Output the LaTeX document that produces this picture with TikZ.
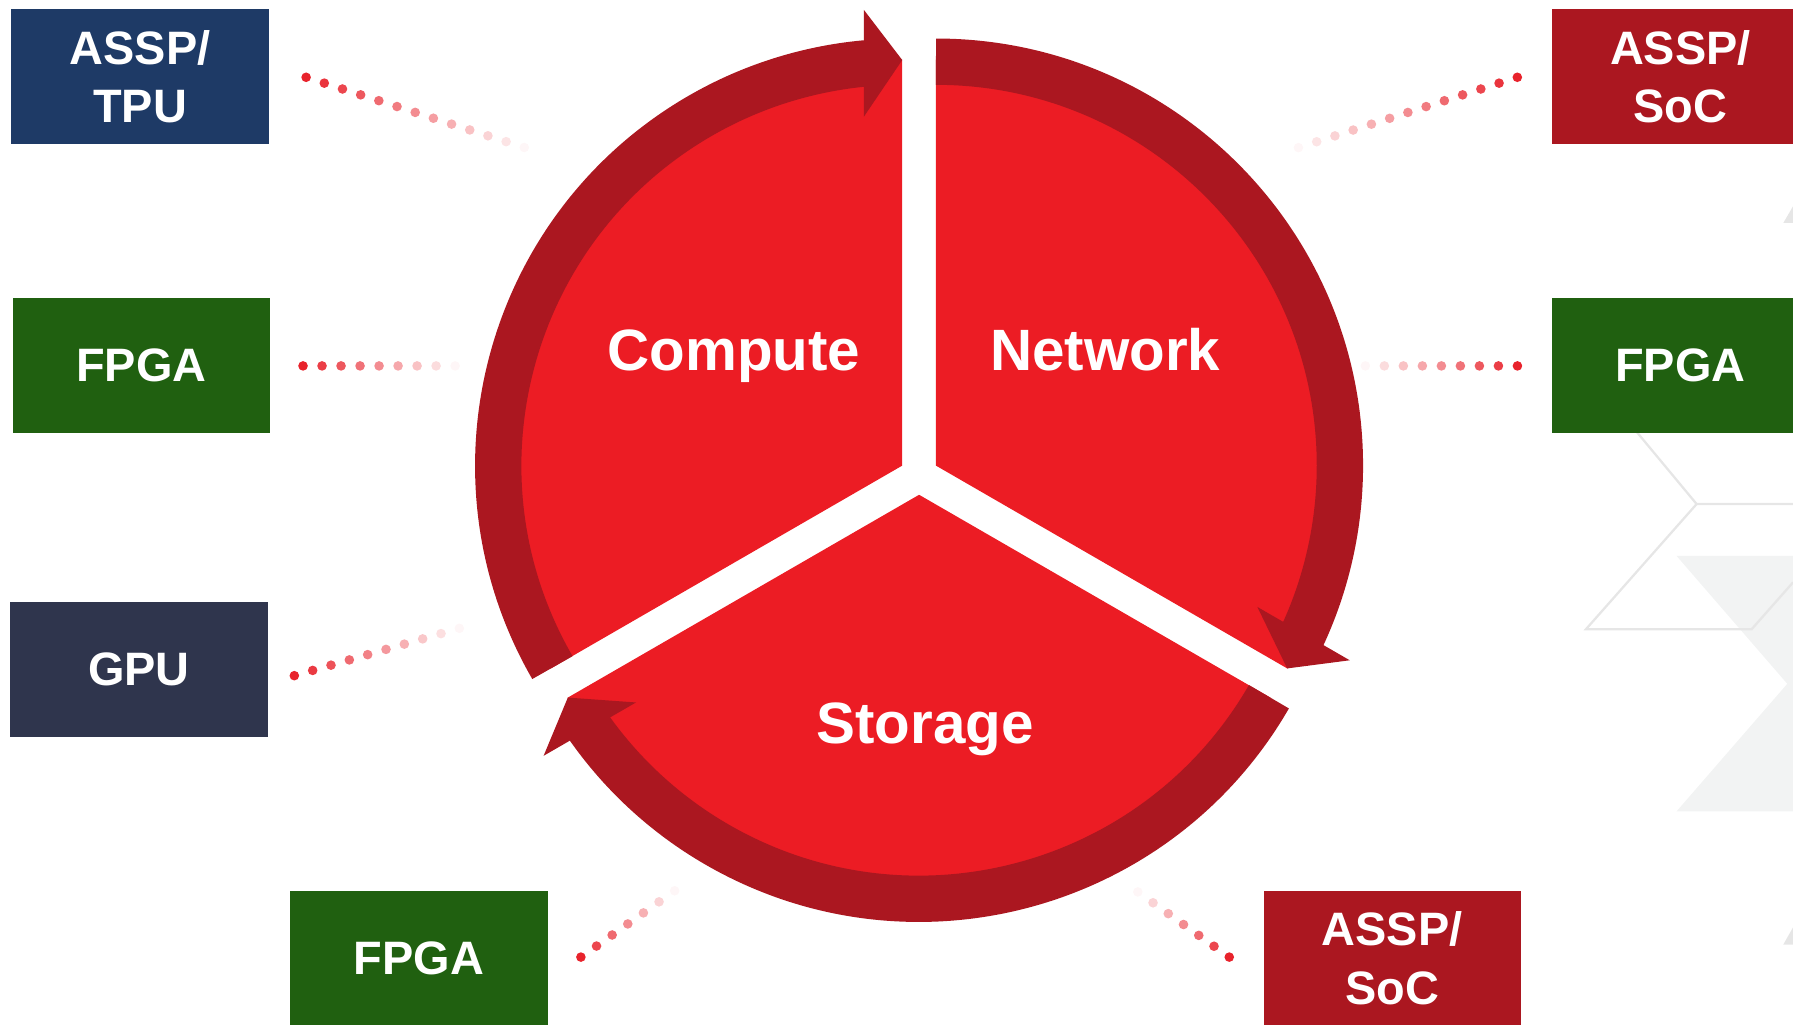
\documentclass[tikz,border=0pt]{standalone}
\usepackage{fontspec}
\setmainfont{Liberation Sans}
\usetikzlibrary{calc}
\definecolor{lightred}{HTML}{EC1C24}
\definecolor{darkred}{HTML}{AB1720}
\definecolor{navyb}{HTML}{1E3A66}
\definecolor{greenb}{HTML}{206010}
\definecolor{slateb}{HTML}{2F354D}
\definecolor{dotred}{HTML}{E8232C}
\definecolor{bggray}{HTML}{F2F3F3}
\definecolor{bgline}{HTML}{E6E6E6}
\newcommand\dotrow[3]{%
  \foreach \k in {0,...,#3}{%
    \pgfmathsetmacro\dop{1-0.96*\k/#3}%
    \pgfmathsetmacro\dpos{\k/#3}%
    \fill[dotred, opacity=\dop] ($(#1)!\dpos!(#2)$) circle (4.2);
  }}
% sector: #1 apex, #2 clockwise-end edge angle (arrow side)
\newcommand\cyclesector[2]{%
  \begin{scope}[shift={(#1)}, rotate=#2]
    \fill[lightred] (0,0) -- (0:355) arc[start angle=0, end angle=120, radius=355] -- cycle;
    \draw[ringarc] (120:353.25) arc[start angle=120, end angle=4.5, radius=353.25];
    \fill[headshape] (354.7,0) -- (305.2,33.5) -- (398.5,33.5) -- cycle;
  \end{scope}}
\begin{document}
\begin{tikzpicture}[x=1pt,y=1pt,
  catbox/.style={minimum width=225pt, minimum height=118pt, inner sep=0pt, text=white,
    font=\fontsize{41}{51}\selectfont\bfseries, align=center},
  seclabel/.style={text=white, inner sep=0pt, anchor=base, font=\fontsize{51}{60}\selectfont\bfseries},
  headshape/.style={fill=darkred},
  ringarc/.style={draw=darkred, line width=40.5pt}]
\useasboundingbox (0,0) rectangle (1568,896);
\clip (0,0) rectangle (1568,896);
% background decoration
\fill[bggray] (1466.2,409.8) -- (1568,409.8) -- (1568,186.5) -- (1466.2,186.5) -- (1563,298) -- cycle;
\draw[bgline, line width=2pt] (1380,580) -- (1483.7,455.2) -- (1568,455.2);
\draw[bgline, line width=2pt] (1483.7,455.2) -- (1386.9,345.7) -- (1531.8,345.7) -- (1568,386.7);
\fill[bgline] (1559.5,701) -- (1568,715.6) -- (1568,701) -- cycle;
\fill[bgline] (1559.5,70) -- (1568,85) -- (1568,70) -- cycle;
% cycle sectors (each drawn about its own apex)
\coordinate (apexC) at (789,488.8);
\coordinate (apexN) at (818.5,488.8);
\coordinate (apexS) at (803.75,463.3);
\cyclesector{apexC}{90}
\cyclesector{apexN}{-30}
\cyclesector{apexS}{210}
\node[seclabel] (compute) at (641.8,572.4) {Compute};
\node[seclabel] (network) at (966.5,572) {Network};
\node[seclabel] (storage) at (809,246) {Storage};
% boxes
\node[catbox, fill=navyb] (tpu) at (122.5,829) {ASSP/\\TPU};
\node[catbox, fill=greenb] (fpgaL) at (123.5,576.5) {FPGA};
\node[catbox, fill=slateb] (gpu) at (121.5,310.5) {GPU};
\node[catbox, fill=greenb] (fpgaB) at (366.5,58) {FPGA};
\node[catbox, fill=darkred] (socB) at (1217.5,58) {ASSP/\\SoC};
\node[catbox, fill=darkred] (socT) at (1469.5,829) {ASSP/\\SoC};
\node[catbox, fill=greenb] (fpgaR) at (1469.5,576.5) {FPGA};
% dotted links
\coordinate (s1) at (267.7,828.4); \coordinate (e1) at (458.5,767);
\coordinate (s2) at (265,576);     \coordinate (e2) at (398,576);
\coordinate (s3) at (257.4,305.1); \coordinate (e3) at (401.7,346.5);
\coordinate (s4) at (508,59);      \coordinate (e4) at (590,117);
\coordinate (s5) at (1075,59);     \coordinate (e5) at (995,116);
\coordinate (s6) at (1327,576);    \coordinate (e6) at (1194,576);
\coordinate (s7) at (1326.9,828.4);\coordinate (e7) at (1135.5,766.9);
\dotrow{s1}{e1}{12}
\dotrow{s2}{e2}{8}
\dotrow{s3}{e3}{9}
\dotrow{s4}{e4}{6}
\dotrow{s5}{e5}{6}
\dotrow{s6}{e6}{8}
\dotrow{s7}{e7}{12}
\end{tikzpicture}
\end{document}
